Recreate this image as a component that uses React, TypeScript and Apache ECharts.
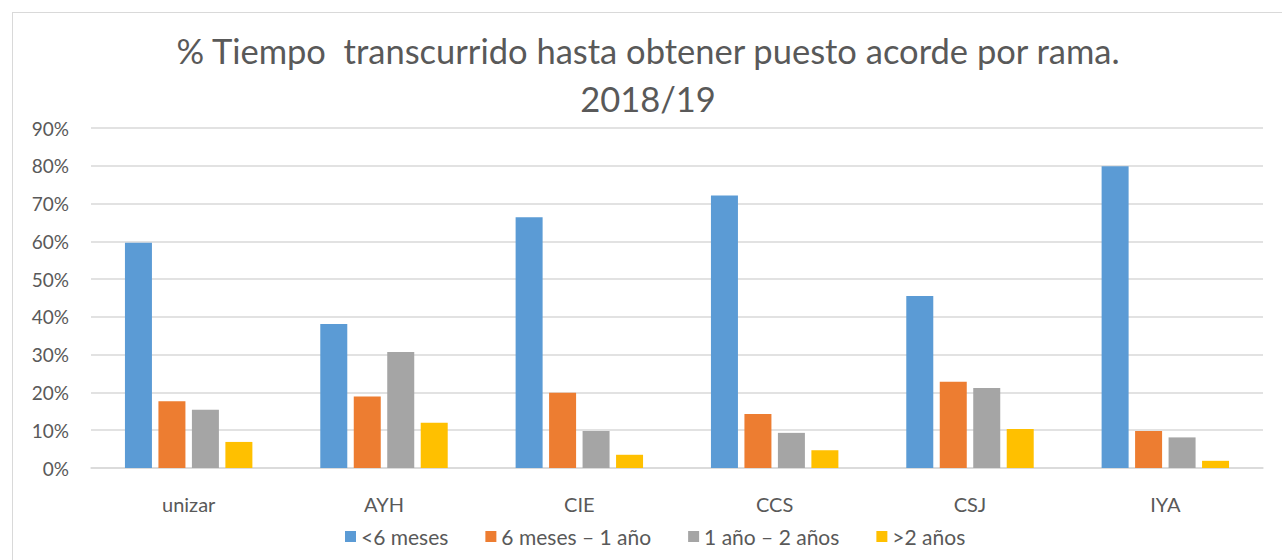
import React, { useEffect, useRef } from "react";
import * as echarts from "echarts";

const categories = ["unizar", "AYH", "CIE", "CCS", "CSJ", "IYA"];
const seriesNames = ["<6 meses", "6 meses – 1 año", "1 año – 2 años", ">2 años"];
const menos6 = [59.6, 38.1, 66.4, 72.1, 45.5, 79.9];
const de6a12 = [17.7, 18.9, 19.9, 14.3, 22.8, 9.8];
const de1a2 = [15.4, 30.7, 9.8, 9.3, 21.2, 8.1];
const mas2 = [6.9, 12.0, 3.5, 4.7, 10.3, 1.9];
const yTicks = [0, 10, 20, 30, 40, 50, 60, 70, 80, 90];
const colors = ["#5B9BD5", "#ED7D31", "#A5A5A5", "#FFC000"];
const titleText = "% Tiempo  transcurrido hasta obtener puesto acorde por rama.\n2018/19";

const FONT = "Lato, 'Noto Sans', sans-serif";

export default function App() {
  const ref = useRef<HTMLDivElement>(null);
  useEffect(() => {
    document.body.style.margin = "0";
    const chart = echarts.init(ref.current!, null, { renderer: "svg" });
    const data = [menos6, de6a12, de1a2, mas2];
    chart.setOption({
      animation: false,
      backgroundColor: "#ffffff",
      textStyle: { fontFamily: FONT },
      title: {
        text: titleText,
        left: 643,
        textAlign: "center",
        top: 21,
        textStyle: {
          fontFamily: FONT,
          fontSize: 34.5,
          fontWeight: "normal",
          color: "#595959",
          lineHeight: 48,
        },
      },
      legend: {
        data: seriesNames,
        left: 340,
        top: 521,
        itemWidth: 11,
        itemHeight: 11,
        itemGap: 37,
        icon: "rect",
        textStyle: { fontFamily: FONT, fontSize: 21, color: "#595959", padding: [0, 0, 0, 0] },
      },
      grid: { left: 91, right: 19, top: 128, bottom: 92, containLabel: false },
      xAxis: {
        type: "category",
        data: categories,
        axisLine: { show: true, lineStyle: { color: "#D9D9D9", width: 1.5 } },
        axisTick: { show: false },
        axisLabel: { color: "#595959", fontFamily: FONT, fontSize: 20, margin: 26 },
      },
      yAxis: {
        type: "value",
        min: 0,
        max: 90,
        interval: 10,
        axisLine: { show: false },
        axisTick: { show: false },
        axisLabel: {
          color: "#595959",
          fontFamily: FONT,
          fontSize: 19,
          margin: 22,
          formatter: (v: number) => (yTicks.includes(v) ? v + "%" : ""),
        },
        splitLine: { lineStyle: { color: "#D9D9D9", width: 1.5 } },
      },
      series: seriesNames.map((name, i) => ({
        name,
        type: "bar",
        data: data[i],
        barWidth: 27,
        barGap: "24%",
        itemStyle: { color: colors[i] },
      })),
    });
    return () => chart.dispose();
  }, []);
  return (
    <div style={{ position: "absolute", left: 0, top: 0, width: 1282, height: 560, background: "#fff" }}>
      <div ref={ref} style={{ width: 1282, height: 560 }} />
      <div
        style={{
          position: "absolute",
          left: 12,
          top: 12,
          width: 1290,
          height: 560,
          border: "1.5px solid #D9D9D9",
          pointerEvents: "none",
        }}
      />
    </div>
  );
}
